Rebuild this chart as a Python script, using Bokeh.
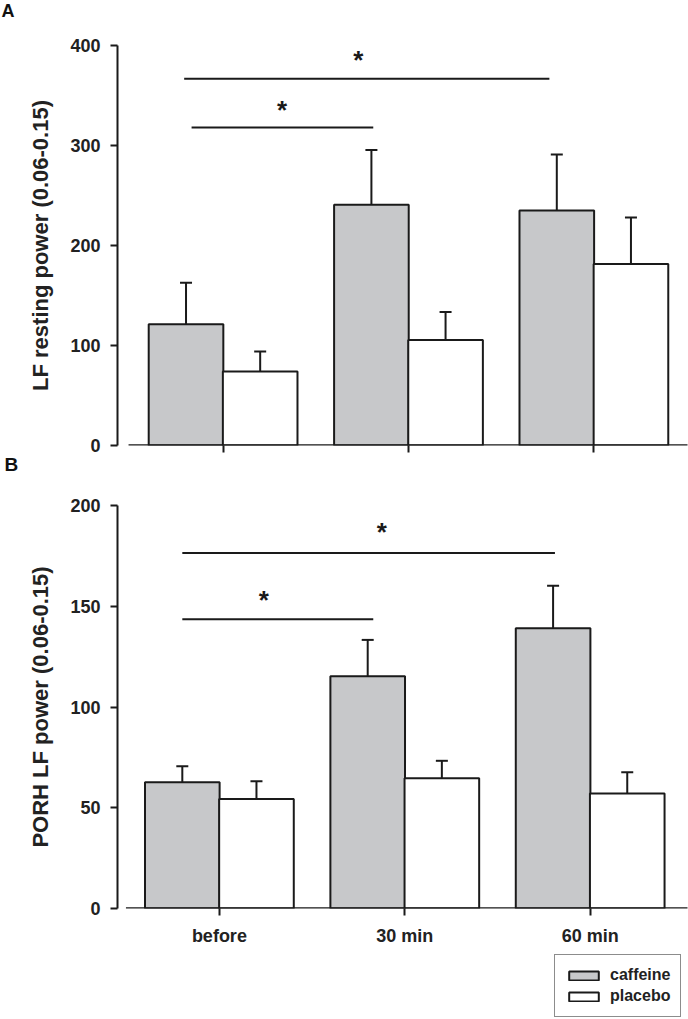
from bokeh.plotting import figure
from bokeh.models import FixedTicker, Legend, Whisker, ColumnDataSource, TeeHead, Title
from bokeh.layouts import column
from bokeh.embed import file_html
from bokeh.resources import INLINE
from bokeh.core.properties import value

# ---------------- data ----------------
groups = ["before", "30 min", "60 min"]
series = ["caffeine", "placebo"]

lf_caffeine = [121.2, 240.7, 235.0]
lf_caffeine_err = [41.5, 54.8, 56.1]
lf_placebo = [74.0, 105.6, 181.6]
lf_placebo_err = [20.0, 27.9, 46.5]

porh_caffeine = [62.6, 115.2, 139.1]
porh_caffeine_err = [8.0, 18.1, 21.1]
porh_placebo = [54.3, 64.7, 57.1]
porh_placebo_err = [8.8, 8.6, 10.5]

lf_ticks = [0, 100, 200, 300, 400]
porh_ticks = [0, 50, 100, 150, 200]

# significance annotations: bracket level and asterisk level (data units)
lf_sig_level = [366.8, 318.0]
lf_star_level = [386.0, 336.0]
porh_sig_level = [176.4, 143.6]
porh_star_level = [187.0, 153.0]

# ---------------- style ----------------
FONT = "Liberation Sans"
INK = "#1a1a1a"
GRAY = "#c7c8ca"
BAR_W = 0.4025
DODGE = 0.2
W = 688
FRAME_LEFT = 117


def style_letter(t, letter, x, standoff, size):
    t.text = letter
    t.align = "left"
    t.offset = x - FRAME_LEFT
    t.standoff = standoff
    t.vertical_align = "top"
    t.text_font = FONT
    t.text_font_style = "bold"
    t.text_font_size = size
    t.text_line_height = 1.0
    t.text_color = "#111111"


def bare_figure(height):
    f = figure(width=W, height=height, x_range=(0, 1), y_range=(0, 1),
               x_axis_location=None, y_axis_location=None,
               output_backend="svg", toolbar_location=None, min_border=0,
               min_border_left=FRAME_LEFT, min_border_right=1)
    f.outline_line_color = None
    f.grid.visible = False
    return f


def make_panel(caf, caf_err, pla, pla_err, ticks, ylabel, sig_level,
               star_level, sig_span, star_x, x_range, height, borders,
               show_xlabels, base_start):
    n = len(groups)
    bt, bb = borders
    p = figure(width=W, height=height, x_range=x_range,
               y_range=(ticks[0], ticks[-1]), output_backend="svg",
               toolbar_location=None, min_border_left=FRAME_LEFT,
               min_border_right=1, min_border_top=bt,
               min_border_bottom=bb)
    p.outline_line_color = None
    p.grid.visible = False

    xs_c = [i - DODGE for i in range(n)]
    xs_p = [i + DODGE for i in range(n)]
    p.vbar(x=xs_c, top=caf, width=BAR_W, bottom=0, fill_color=GRAY,
           line_color=INK, line_width=2)
    p.vbar(x=xs_p, top=pla, width=BAR_W, bottom=0, fill_color="white",
           line_color=INK, line_width=2)

    for xs, tops, errs in ((xs_c, caf, caf_err), (xs_p, pla, pla_err)):
        src = ColumnDataSource(dict(x=xs, lower=tops,
                                    upper=[t + e for t, e in zip(tops, errs)]))
        w = Whisker(base="x", lower="lower", upper="upper", source=src,
                    lower_head=None,
                    upper_head=TeeHead(size=12, line_width=2, line_color=INK),
                    line_width=2, line_color=INK, level="annotation")
        p.add_layout(w)

    # baseline (x axis line, which starts a little right of the y axis)
    p.segment(x0=[base_start], x1=[n], y0=[0], y1=[0], line_color=INK,
              line_width=2.5)

    # significance brackets
    p.segment(x0=[s[0] for s in sig_span], x1=[s[1] for s in sig_span],
              y0=sig_level, y1=sig_level, line_color=INK, line_width=2)
    p.text(x=star_x, y=star_level, text=["*"] * len(star_x),
           text_font=value(FONT), text_font_style="bold",
           text_font_size="26px", text_align="center",
           text_baseline="middle", text_color=INK)

    # axes
    ya = p.yaxis[0]
    ya.ticker = FixedTicker(ticks=ticks)
    ya.minor_tick_line_color = None
    ya.major_tick_in = 0
    ya.major_tick_out = 7
    ya.major_tick_line_width = 2
    ya.major_tick_line_color = INK
    ya.axis_line_width = 2
    ya.axis_line_color = INK
    ya.major_label_text_font = FONT
    ya.major_label_text_font_style = "bold"
    ya.major_label_text_font_size = "18px"
    ya.major_label_text_color = "#222222"
    ya.major_label_standoff = 10
    ya.axis_label = ylabel
    ya.axis_label_text_font = FONT
    ya.axis_label_text_font_style = "bold"
    ya.axis_label_text_font_size = "22px"
    ya.axis_label_text_color = "#222222"
    ya.axis_label_standoff = 14

    xa = p.xaxis[0]
    xa.ticker = FixedTicker(ticks=list(range(n)))
    xa.minor_tick_line_color = None
    xa.axis_line_color = None
    xa.major_tick_in = 0
    xa.major_tick_out = 7
    xa.major_tick_line_width = 2
    xa.major_tick_line_color = INK
    xa.major_label_overrides = {i: g for i, g in enumerate(groups)}
    xa.major_label_text_font = FONT
    xa.major_label_text_font_style = "bold"
    xa.major_label_text_font_size = "18px"
    if show_xlabels:
        xa.major_label_text_color = "#222222"
        xa.major_label_standoff = 10
    else:
        xa.major_label_text_color = None
        xa.major_label_standoff = 0
    return p


# panel letter "A" strip
strip_a = bare_figure(26)
style_letter(strip_a.title, "A", 1, 0, "18px")

pa = make_panel(
    lf_caffeine, lf_caffeine_err, lf_placebo, lf_placebo_err, lf_ticks,
    "LF resting power (0.06-0.15)", lf_sig_level, lf_star_level,
    [(-0.21, 1.76), (-0.17, 0.81)], [0.73, 0.318],
    (-0.5696, 2.505), 452, (19, 32), False, -0.51)
title_b = Title()
style_letter(title_b, "B", 4, 3, "19px")
pa.add_layout(title_b, "below")

pb = make_panel(
    porh_caffeine, porh_caffeine_err, porh_placebo, porh_placebo_err,
    porh_ticks, "PORH LF power (0.06-0.15)", porh_sig_level,
    porh_star_level, [(-0.2, 1.81), (-0.2, 0.83)], [0.876, 0.24],
    (-0.5496, 2.525), 470, (27, 40), True, -0.504)

# legend strip: legend-proxy renderers sit behind the opaque legend box
pl = bare_figure(71)
leg_c = pl.vbar(x=[0.88], top=[0.5], bottom=[0.4], width=0.04,
                fill_color=GRAY, line_color=INK, line_width=2)
leg_p = pl.vbar(x=[0.88], top=[0.5], bottom=[0.4], width=0.04,
                fill_color="white", line_color=INK, line_width=2)
legend = Legend(items=[(series[0], [leg_c]), (series[1], [leg_p])],
                location=(554 - FRAME_LEFT, 2), orientation="vertical",
                border_line_color=INK, border_line_width=1.5,
                background_fill_color="white", background_fill_alpha=1,
                padding=10, spacing=1, margin=0, glyph_width=37,
                glyph_height=11, label_standoff=8, label_height=20,
                label_text_font=FONT, label_text_font_style="bold",
                label_text_font_size="16px", label_text_color="#222222")
pl.add_layout(legend)

layout = column(strip_a, pa, pb, pl, spacing=0)
open("out.html", "w").write(file_html(layout, INLINE))
